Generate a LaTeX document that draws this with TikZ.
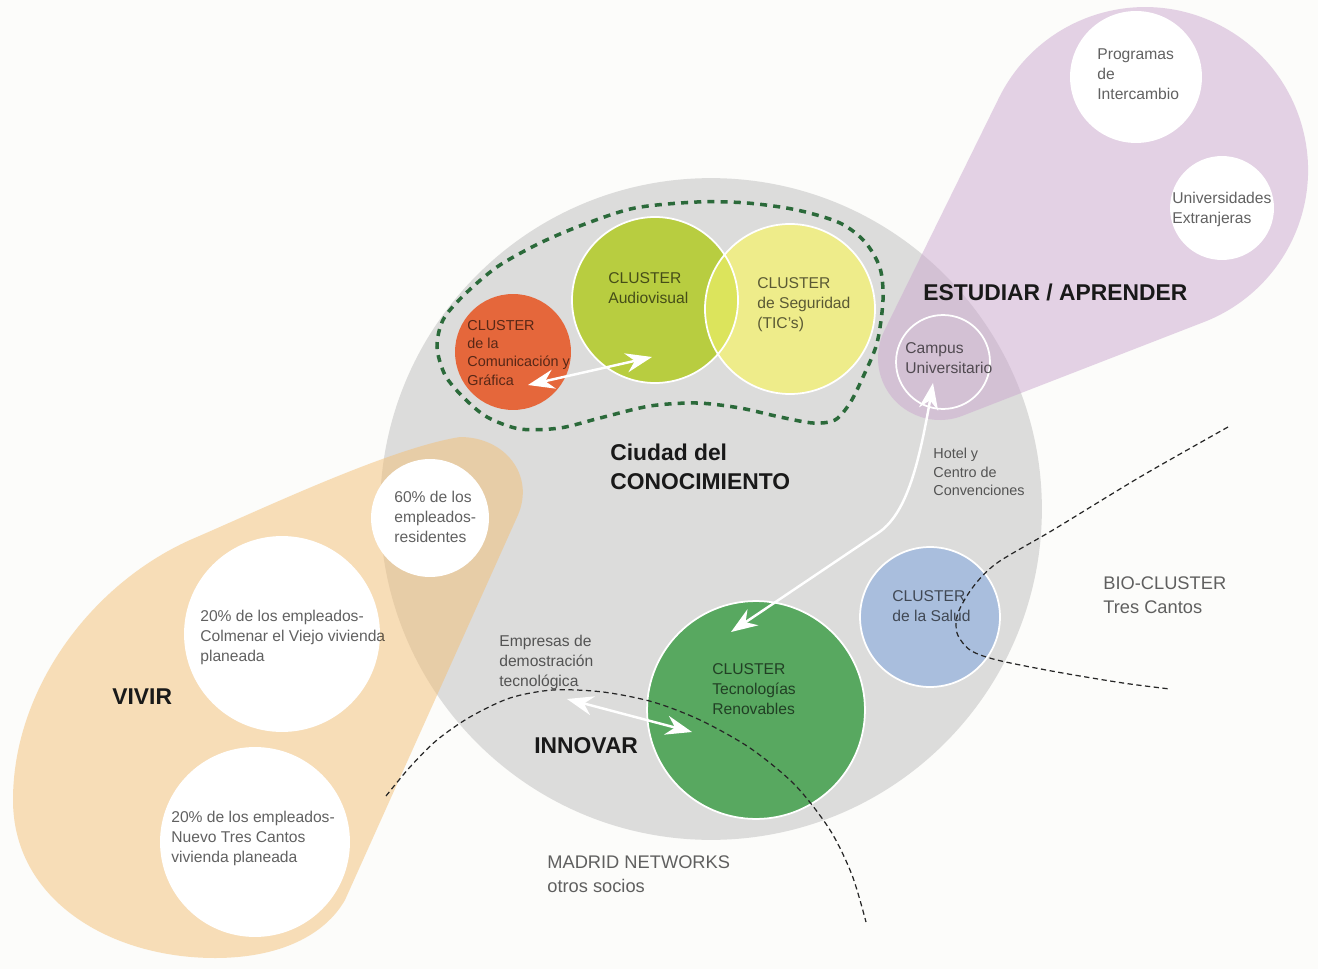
\documentclass[tikz,border=0pt]{standalone}
\usepackage{fontspec}
\setmainfont{Liberation Sans}
\usetikzlibrary{arrows.meta}
\definecolor{bgc}{HTML}{FCFCFA}
\definecolor{cityc}{HTML}{DCDCDB}
\definecolor{livec}{RGB}{243,191,117}
\definecolor{studyc}{RGB}{203,167,207}
\definecolor{comc}{HTML}{E5673B}
\definecolor{audioc}{HTML}{B8CD40}
\definecolor{secc}{HTML}{EEEC8A}
\definecolor{overc}{HTML}{DCE45C}
\definecolor{renc}{HTML}{58A860}
\definecolor{healthc}{HTML}{A9BEDD}
\definecolor{loopc}{HTML}{2B6A3A}
\begin{document}
\begin{tikzpicture}[x=0.02cm,y=-0.02cm,
    disc/.style={circle,inner sep=0pt,minimum size=#1*0.04cm},
    txt/.style={anchor=north west,inner sep=0pt,align=left,text=black,text opacity=.62,
      font=\fontsize{8.9}{11.4}\selectfont},
    small/.style={txt,font=\fontsize{8.2}{10.4}\selectfont},
    big/.style={txt,font=\fontsize{10.4}{13.6}\selectfont},
    head/.style={anchor=north west,inner sep=0pt,align=left,text=black!90,
      font=\bfseries\fontsize{13}{16}\selectfont},
    link/.style={white,line width=1.4pt,
      {Stealth[length=15pt,width=11pt,inset=5pt]}-{Stealth[length=15pt,width=11pt,inset=5pt]}},
    route/.style={black!85,line width=.7pt,dash pattern=on 3pt off 2pt}]
        \useasboundingbox (0,0) rectangle (1318,969);
        \fill [bgc] (0,0) rectangle (1318,969);
        \node [disc=331,fill=cityc] (city) at (711,509) {};
        \fill [livec,opacity=.5] (460,437) .. controls (390,448) and (260,510) .. (190,540)
            .. controls (90,585) and (13,690) .. (13,800)
            .. controls (13,900) and (110,958) .. (215,958)
            .. controls (280,958) and (325,935) .. (345,900)
            -- (518,515) .. controls (535,475) and (505,437) .. (460,437) -- cycle;
        \fill [studyc,opacity=.5] (998.8,98.1) arc [start angle=206.2,end angle=428.8,radius=163]
            -- (962.4,415.8) arc [start angle=68.8,end angle=206.2,radius=62] -- cycle;
        \node [disc=59,fill=white] (resid) at (430,518) {};
        \node [disc=98,fill=white] (colmenar) at (282,634) {};
        \node [disc=95,fill=white] (nuevo) at (255,842) {};
        \node [disc=66,fill=white] (interc) at (1136,77) {};
        \node [disc=52,fill=white] (univ) at (1222,208) {};
        \node [disc=109,fill=renc,draw=white,line width=1pt] (renov) at (756,710) {};
        \node [disc=70,fill=healthc,draw=white,line width=1pt] (salud) at (930,617) {};
        \node [disc=58,fill=comc] (comun) at (513,352) {};
        \node [disc=83,fill=audioc] (audio) at (655,300) {};
        \node [disc=85,fill=secc] (segur) at (790,309) {};
        \begin{scope}
            \clip (audio.center) circle (83);
            \fill [overc] (segur.center) circle (85);
        \end{scope}
        \draw [white,line width=1pt] (audio.center) circle (83) (segur.center) circle (85);
        \node [disc=47,draw=white,line width=1pt] (campus) at (943,362) {};
        \draw [loopc,line width=2pt,dash pattern=on 4pt off 3.5pt] plot [smooth cycle] coordinates {
            (697,202) (747,203) (797,210) (840,223) (865,242) (880,268) (883,300) (877,343)
            (863,377) (850,403) (835,420) (813,423) (780,417) (740,408) (697,403) (650,406)
            (600,418) (560,428) (520,429) (487,417) (463,397) (445,375) (437,347) (443,320)
            (463,296) (497,267) (540,243) (585,224) (635,208)};
        \draw [route] plot [smooth] coordinates {(386,796) (410,767) (437,740) (470,717) (510,698)
            (553,690) (603,692) (653,702) (700,720) (750,748) (795,785) (830,830) (852,875) (866,922)};
        \draw [route] plot [smooth] coordinates {(1228,427) (1140,477) (1053,530) (997,563)
            (973,587) (958,613) (957,633) (970,650) (997,660) (1057,672) (1123,683) (1170,689)};
        \coordinate (grafE) at (528,385);
        \coordinate (audioE) at (652,357);
        \coordinate (campusE) at (933,383);
        \coordinate (renovN) at (731,632);
        \coordinate (emprE) at (567,699);
        \coordinate (renovW) at (692,732);
        \draw [link] (grafE) -- (audioE);
        \draw [link] (campusE) .. controls (918,470) and (905,515) .. (878,533) -- (renovN);
        \draw [link] (emprE) -- (renovW);
        \node [head] (tcity) at (610,444) {Ciudad del\\CONOCIMIENTO};
        \node [head] (tstudy) at (923,284) {ESTUDIAR / APRENDER};
        \node [head] (tlive) at (112,688) {VIVIR};
        \node [head] (tinnov) at (534,737) {INNOVAR};
        \node [txt] (tinterc) at (1097,48) {Programas\\de\\Intercambio};
        \node [txt] (tuniv) at (1172,192) {Universidades\\Extranjeras};
        \node [txt] (tcampus) at (905,342) {Campus\\Universitario};
        \node [txt] (taudio) at (608,272) {CLUSTER\\Audiovisual};
        \node [txt] (tsegur) at (757,277) {CLUSTER\\de Seguridad\\(TIC's)};
        \node [small] (tcomun) at (467,320) {CLUSTER\\de la\\Comunicación y\\Gráfica};
        \node [small] (thotel) at (933,448) {Hotel y\\Centro de\\Convenciones};
        \node [big] (tbio) at (1103,576) {BIO-CLUSTER\\Tres Cantos};
        \node [txt] (tsalud) at (892,590) {CLUSTER\\de la Salud};
        \node [txt] (tempr) at (499,635) {Empresas de\\demostración\\tecnológica};
        \node [txt] (trenov) at (712,663) {CLUSTER\\Tecnologías\\Renovables};
        \node [big] (tmadrid) at (547,855) {MADRID NETWORKS\\otros socios};
        \node [txt] (tresid) at (394,491) {60\% de los\\empleados-\\residentes};
        \node [txt] (tcolm) at (200,610) {20\% de los empleados-\\Colmenar el Viejo vivienda\\planeada};
        \node [txt] (tnuevo) at (171,811) {20\% de los empleados-\\Nuevo Tres Cantos\\vivienda planeada};
\end{tikzpicture}
\end{document}
